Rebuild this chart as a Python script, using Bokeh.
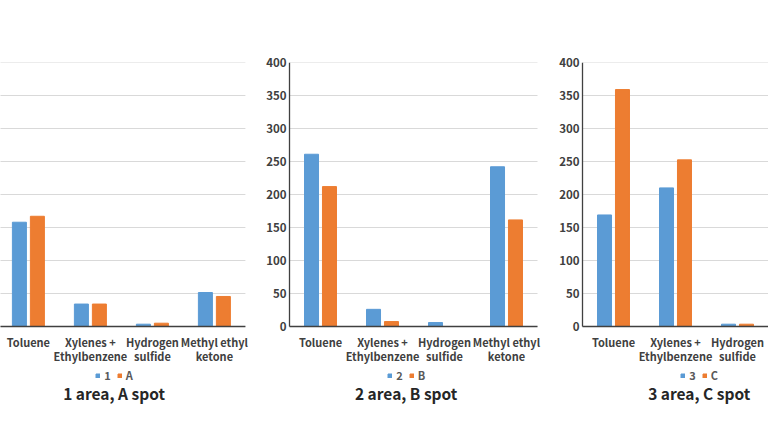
from bokeh.plotting import figure
from bokeh.layouts import row
from bokeh.models import (Range1d, FixedTicker, Legend, LegendItem, Label,
                          ColumnDataSource)
from bokeh.embed import file_html
from bokeh.resources import INLINE

# Categories (x axis) and measured concentrations per panel
categories = ["Toluene", "Xylenes +\nEthylbenzene", "Hydrogen\nsulfide", "Methyl ethyl\nketone"]

area1 = [158, 34, 3.5, 51.5]
spot_a = [167, 34, 5, 45.5]

area2 = [261, 26, 6, 242]
spot_b = [212, 7.5, 0, 161.5]

area3 = [169, 210, 3.5]
spot_c = [359, 252.5, 3.5]

y_ticks = [0, 50, 100, 150, 200, 250, 300, 350, 400]

BLUE = "#5B9BD5"
ORANGE = "#ED7D31"
FONT = "Noto Sans CJK KR"
TXT = "#404040"

H = 432
TOP = 62
PX_UNIT = 62          # pixels per category slot
Y_PX = 264 / 400      # pixels per y unit
Y_MIN = -(H - TOP - 264) / Y_PX


def panel(series1, series2, name1, name2, title, x_start, width, border_left,
          n_slots, show_yaxis):
    n = len(series1)
    pos = [i + 0.5 for i in range(n)]
    frame_w = width - border_left
    x_end = x_start + frame_w / PX_UNIT
    p = figure(width=width, height=H, output_backend="svg", toolbar_location=None,
               x_range=Range1d(x_start, x_end), y_range=Range1d(Y_MIN, 400),
               min_border_left=border_left, min_border_right=0,
               min_border_top=TOP, min_border_bottom=0)
    p.outline_line_color = None
    p.background_fill_color = "white"
    p.border_fill_color = "white"
    p.xaxis.visible = False
    p.xgrid.grid_line_color = None
    p.ygrid.grid_line_color = None

    # horizontal gridlines over the plotting slots
    p.segment(x0=[0] * len(y_ticks), x1=[n_slots] * len(y_ticks), y0=y_ticks, y1=y_ticks,
              line_color="#D9D9D9", line_width=1)

    src = ColumnDataSource(dict(x1=[x - 0.145 for x in pos], x2=[x + 0.145 for x in pos],
                                s1=series1, s2=series2))
    r1 = p.vbar(x="x1", top="s1", width=0.226, source=src, color=BLUE)
    r2 = p.vbar(x="x2", top="s2", width=0.226, source=src, color=ORANGE)

    # axis lines
    p.segment(x0=[0], x1=[n_slots], y0=[0], y1=[0], line_color="#404040", line_width=1.3)
    if show_yaxis:
        p.segment(x0=[0], x1=[0], y0=[0], y1=[400], line_color="#404040", line_width=1.3)

    # category names under each group
    p.text(x=pos, y=[-12] * n, text=categories[:n], text_align="center",
           text_baseline="top", text_font={"value": FONT}, text_font_style="bold",
           text_font_size="11px", text_color=TXT, text_line_height=0.82)

    ya = p.yaxis[0]
    ya.ticker = FixedTicker(ticks=y_ticks)
    ya.major_tick_line_color = None
    ya.minor_tick_line_color = None
    ya.axis_line_color = None
    ya.major_label_text_font = FONT
    ya.major_label_text_font_style = "bold"
    ya.major_label_text_font_size = "11.5px"
    ya.major_label_text_color = TXT
    ya.major_label_standoff = -6
    ya.visible = show_yaxis

    # legend and panel title centred under the groups
    cx = 1.86
    legend_x = (cx - x_start) * PX_UNIT - 17
    legend = Legend(items=[LegendItem(label=name1, renderers=[r1]),
                           LegendItem(label=name2, renderers=[r2])],
                    orientation="horizontal", location=(legend_x, 49),
                    glyph_width=5, glyph_height=5, spacing=6, padding=0, margin=0,
                    label_standoff=4, label_width=4, label_text_font=FONT,
                    label_text_font_style="bold", label_text_baseline="middle",
                    label_text_font_size="11px", label_text_color="#595959",
                    border_line_color=None, background_fill_alpha=0,
                    label_height=5)
    p.add_layout(legend, "center")

    p.add_layout(Label(x=cx + 0.05, y=-101, text=title, text_align="center",
                       text_baseline="middle", text_font=FONT, text_font_size="15.5px",
                       text_font_style="bold", text_color="#262626"))
    return p


p1 = panel(area1, spot_a, "1", "A", "1 area,  A spot", 0.05, 250, 0, 4, False)
p2 = panel(area2, spot_b, "2", "B", "2 area,  B spot", -3 / PX_UNIT, 293, 36, 4, True)
p3 = panel(area3, spot_c, "3", "C", "3 area,  C spot", -3 / PX_UNIT, 225, 36, 4, True)

layout = row(p1, p2, p3)
open("out.html", "w").write(file_html(layout, INLINE))
